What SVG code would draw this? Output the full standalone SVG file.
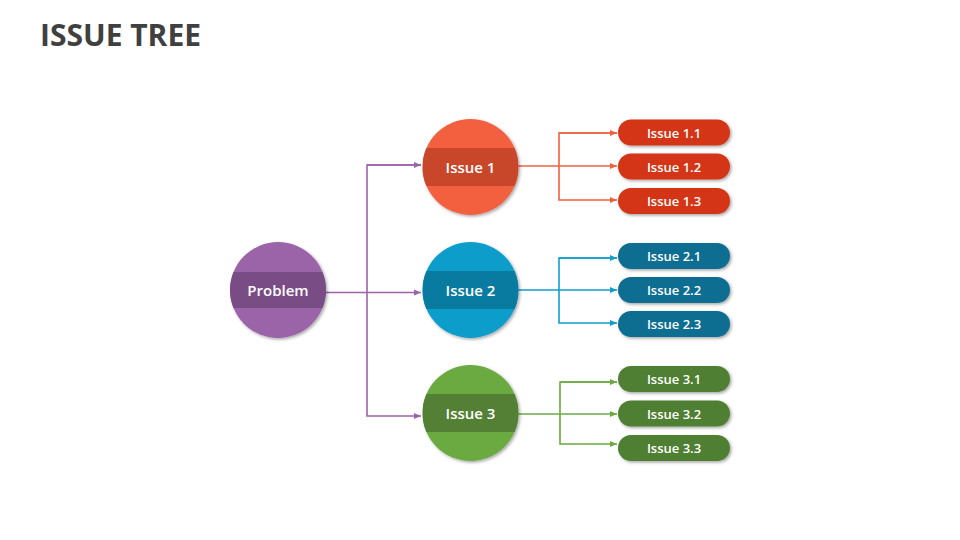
<svg xmlns="http://www.w3.org/2000/svg" width="960" height="540" viewBox="0 0 960 540">
<style>
.title{font-family:"Open Sans","Liberation Sans",sans-serif;font-weight:700;font-size:30px;fill:#404040}
.lbl{font-family:"Open Sans","Liberation Sans",sans-serif;font-weight:600;font-size:15px;fill:#ffffff;text-anchor:middle;dominant-baseline:central}
.sl{font-family:"Open Sans","Liberation Sans",sans-serif;font-weight:600;font-size:13px;fill:#ffffff;text-anchor:middle;dominant-baseline:central}
.c{fill:none;stroke-width:1.6}
</style>
<defs>
<filter id="sh" x="-20%" y="-20%" width="150%" height="150%">
<feDropShadow dx="1.5" dy="1.5" stdDeviation="1.5" flood-color="#000" flood-opacity="0.35"/>
</filter>
<clipPath id="cc"><circle cx="0" cy="0" r="48"/></clipPath>
<marker id="ap" markerWidth="8" markerHeight="8" refX="7" refY="4" orient="auto" markerUnits="userSpaceOnUse"><path d="M0,1 L7,4 L0,7 z" fill="#9B63A8"/></marker>
<marker id="ao" markerWidth="8" markerHeight="8" refX="7" refY="4" orient="auto" markerUnits="userSpaceOnUse"><path d="M0,1 L7,4 L0,7 z" fill="#F0603F"/></marker>
<marker id="ab" markerWidth="8" markerHeight="8" refX="7" refY="4" orient="auto" markerUnits="userSpaceOnUse"><path d="M0,1 L7,4 L0,7 z" fill="#119ECC"/></marker>
<marker id="ag" markerWidth="8" markerHeight="8" refX="7" refY="4" orient="auto" markerUnits="userSpaceOnUse"><path d="M0,1 L7,4 L0,7 z" fill="#6AAA40"/></marker>
</defs>
<rect width="960" height="540" fill="#ffffff"/>
<text class="title" x="40" y="46">ISSUE TREE</text>

<g id="connectors">
<path class="c" stroke="#9B63A8" d="M326,292.5 H421" marker-end="url(#ap)"/>
<path class="c" stroke="#9B63A8" d="M421,165 H367 V416 H421" marker-end="url(#ap)"/>
<path class="c" stroke="#9B63A8" d="M367,165 H421" marker-end="url(#ap)"/>
<path class="c" stroke="#F0603F" d="M518,166 H617" marker-end="url(#ao)"/>
<path class="c" stroke="#F0603F" d="M617,133 H559 V200 H617" marker-end="url(#ao)"/>
<path class="c" stroke="#F0603F" d="M559,133 H617" marker-end="url(#ao)"/>
<path class="c" stroke="#119ECC" d="M518,290 H617" marker-end="url(#ab)"/>
<path class="c" stroke="#119ECC" d="M617,258 H559 V323 H617" marker-end="url(#ab)"/>
<path class="c" stroke="#119ECC" d="M559,258 H617" marker-end="url(#ab)"/>
<path class="c" stroke="#6AAA40" d="M518,414 H617" marker-end="url(#ag)"/>
<path class="c" stroke="#6AAA40" d="M617,382 H560 V444 H617" marker-end="url(#ag)"/>
<path class="c" stroke="#6AAA40" d="M560,382 H617" marker-end="url(#ag)"/>
</g>

<g id="problem" transform="translate(278,290)">
<circle r="48" fill="#9B63A8" filter="url(#sh)"/>
<rect x="-48" y="-18" width="96" height="36" fill="#7A4C86" clip-path="url(#cc)"/>
<text class="lbl" x="0" y="0">Problem</text>
</g>

<g id="issue1" transform="translate(470.5,167)">
<circle r="48" fill="#F26040" filter="url(#sh)"/>
<rect x="-48" y="-19" width="96" height="38" fill="#C8472A" clip-path="url(#cc)"/>
<text class="lbl" x="0" y="0">Issue 1</text>
</g>
<g id="issue2" transform="translate(470.5,290)">
<circle r="48" fill="#0A9DCB" filter="url(#sh)"/>
<rect x="-48" y="-19" width="96" height="38" fill="#0A7BA0" clip-path="url(#cc)"/>
<text class="lbl" x="0" y="0">Issue 2</text>
</g>
<g id="issue3" transform="translate(470.5,413)">
<circle r="48" fill="#6AAA40" filter="url(#sh)"/>
<rect x="-48" y="-19" width="96" height="38" fill="#538035" clip-path="url(#cc)"/>
<text class="lbl" x="0" y="0">Issue 3</text>
</g>

<g id="issue1-1"><rect x="618" y="119.5" width="112" height="26" rx="13" fill="#D33412" filter="url(#sh)"/><text class="sl" x="674" y="132.5">Issue 1.1</text></g>
<g id="issue1-2"><rect x="618" y="153.5" width="112" height="26" rx="13" fill="#D33412" filter="url(#sh)"/><text class="sl" x="674" y="166.5">Issue 1.2</text></g>
<g id="issue1-3"><rect x="618" y="188" width="112" height="26" rx="13" fill="#D33412" filter="url(#sh)"/><text class="sl" x="674" y="201">Issue 1.3</text></g>

<g id="issue2-1"><rect x="618" y="243" width="112" height="26" rx="13" fill="#0C6E91" filter="url(#sh)"/><text class="sl" x="674" y="256">Issue 2.1</text></g>
<g id="issue2-2"><rect x="618" y="277" width="112" height="26" rx="13" fill="#0C6E91" filter="url(#sh)"/><text class="sl" x="674" y="290">Issue 2.2</text></g>
<g id="issue2-3"><rect x="618" y="311" width="112" height="26" rx="13" fill="#0C6E91" filter="url(#sh)"/><text class="sl" x="674" y="324">Issue 2.3</text></g>

<g id="issue3-1"><rect x="618" y="366" width="112" height="26" rx="13" fill="#507F31" filter="url(#sh)"/><text class="sl" x="674" y="379">Issue 3.1</text></g>
<g id="issue3-2"><rect x="618" y="400.5" width="112" height="26" rx="13" fill="#507F31" filter="url(#sh)"/><text class="sl" x="674" y="413.5">Issue 3.2</text></g>
<g id="issue3-3"><rect x="618" y="435" width="112" height="26" rx="13" fill="#507F31" filter="url(#sh)"/><text class="sl" x="674" y="448">Issue 3.3</text></g>
</svg>
